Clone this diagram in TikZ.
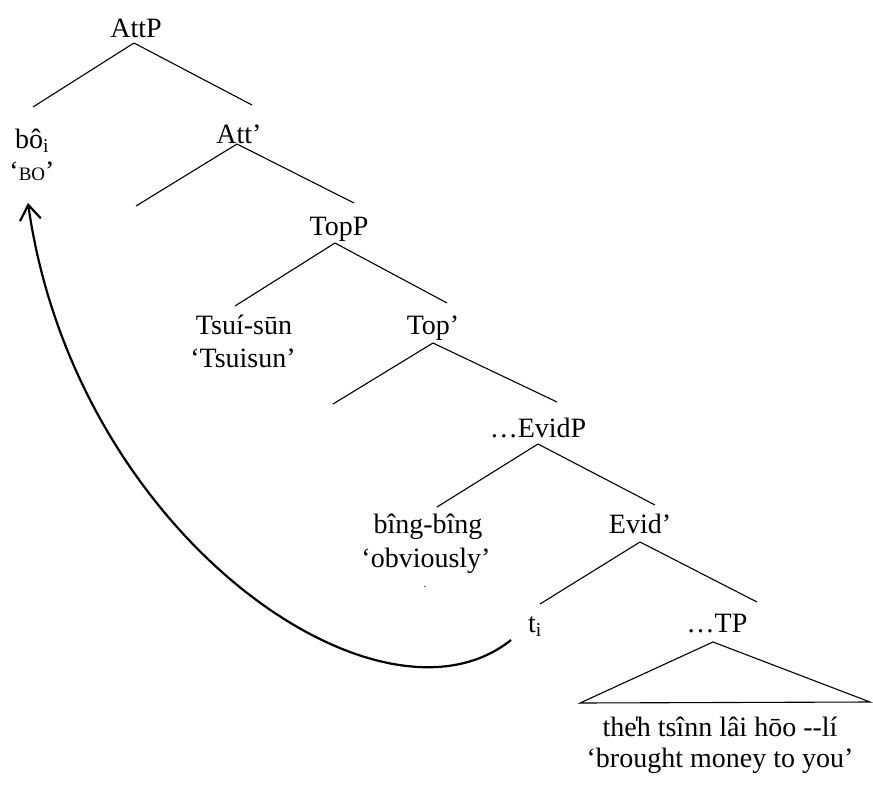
\documentclass[tikz,border=0pt]{standalone}
\usepackage{fontspec}
\setmainfont{Liberation Serif}
\usetikzlibrary{arrows.meta}

\begin{document}
\begin{tikzpicture}[x=1pt, y=-1pt, font=\fontsize{28}{32}\selectfont,
    lbl/.style={inner sep=0pt, anchor=base},
    br/.style={line width=1.1pt},
    mv/.style={-{Straight Barb[length=15pt,width=21pt]}, line width=2.2pt}]
  \useasboundingbox (0,0) rectangle (873,787);

  % labels, set on their baselines
  \node[lbl] (attp) at (136,37) {AttP};
  \node[lbl] (bo) at (32,148) {bô\textsubscript{i}};
  \node[lbl] (bogl) at (32,180) {‘{\fontsize{19}{19}\selectfont BO}’};
  \node[lbl] (att) at (239,143) {Att’};
  \node[lbl] (topp) at (339,235) {TopP};
  \node[lbl] (tsui) at (244,334) {Tsuí-sūn};
  \node[lbl] (tsuigl) at (243,367) {‘Tsuisun’};
  \node[lbl] (topbar) at (433,334) {Top’};
  \node[lbl] (evidp) at (538,437) {…EvidP};
  \node[lbl] (bing) at (428,533) {bîng-bîng};
  \node[lbl] (binggl) at (426,567) {‘obviously’};
  \node[lbl, font=\fontsize{12}{12}\selectfont] (stray) at (425,587) {.};
  \node[lbl] (evid) at (640,533) {Evid’};
  \node[lbl] (ti) at (535,632) {t\textsubscript{i}};
  \node[lbl] (tp) at (717,632) {…TP};
  \node[lbl] (tpwords) at (720,736) {the̍h tsînn lâi hōo -{}-lí};
  \node[lbl] (tpgl) at (720,767) {‘brought money to you’};

  % empty left branches and the triangle corners
  \coordinate (attl) at (136,206);
  \coordinate (topl) at (333,404);
  \coordinate (tril) at ([xshift=-140pt,yshift=33pt]tpwords.base);
  \coordinate (trir) at ([xshift=150pt,yshift=34pt]tpwords.base);

  % branches
  \draw[br] ([xshift=-2pt,yshift=-6pt]attp.base) -- ([xshift=1pt,yshift=41pt]bo.base);
  \draw[br] ([xshift=-2pt,yshift=-6pt]attp.base) -- ([xshift=13pt,yshift=38pt]att.base);
  \draw[br] ([xshift=-2pt,yshift=-1pt]att.base) -- (attl);
  \draw[br] ([xshift=-2pt,yshift=-1pt]att.base) -- ([xshift=15pt,yshift=32pt]topp.base);
  \draw[br] ([xshift=-4pt,yshift=-8pt]topp.base) -- ([xshift=-9pt,yshift=28pt]tsui.base);
  \draw[br] ([xshift=-4pt,yshift=-8pt]topp.base) -- ([xshift=14pt,yshift=31pt]topbar.base);
  \draw[br] ([yshift=-9pt]topbar.base) -- (topl);
  \draw[br] ([yshift=-9pt]topbar.base) -- ([xshift=19pt,yshift=35pt]evidp.base);
  \draw[br] ([yshift=-7pt]evidp.base) -- ([xshift=9pt,yshift=26pt]bing.base);
  \draw[br] ([yshift=-7pt]evidp.base) -- ([xshift=15pt,yshift=28pt]evid.base);
  \draw[br] ([yshift=-9pt]evid.base) -- ([xshift=5pt,yshift=28pt]ti.base);
  \draw[br] ([yshift=-9pt]evid.base) -- ([xshift=40pt,yshift=30pt]tp.base);
  \draw[br] ([xshift=-4pt,yshift=-10pt]tp.base) -- (tril) -- (trir) -- cycle;

  % movement of the trace up to bo
  \draw[mv] ([xshift=-24pt,yshift=-8pt]ti.base) .. controls (380,745) and (75,535) .. ([xshift=-4pt,yshift=-23pt]bogl.base);
\end{tikzpicture}
\end{document}
